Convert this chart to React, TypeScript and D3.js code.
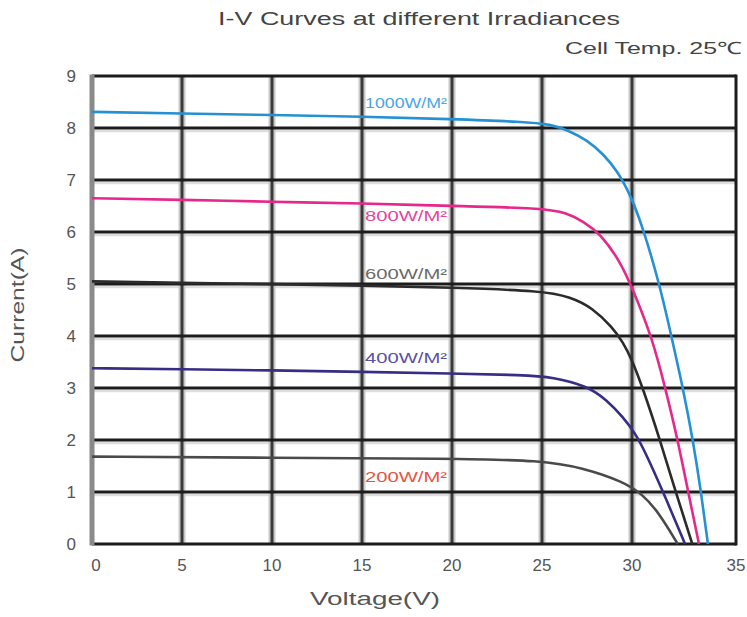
import React, { useEffect, useRef } from 'react';
import * as d3 from 'd3';

// I-V curves: [voltage V, current A]
const curve1000: [number, number][] = [
  [0, 8.31], [5, 8.28], [10, 8.25], [15, 8.22], [20, 8.17], [24, 8.12], [25.5, 8.07],
  [26.4, 7.96], [27.5, 7.77], [28.4, 7.5], [29.2, 7.17], [29.9, 6.72], [30.5, 6.12],
  [31.35, 4.96], [31.9, 3.98], [32.45, 3.0], [32.93, 2.0], [33.32, 1.0], [33.65, 0],
];
const curve800: [number, number][] = [
  [0, 6.65], [5, 6.62], [10, 6.58], [15, 6.55], [20, 6.5], [25, 6.46], [26.4, 6.37],
  [27.3, 6.2], [28.2, 5.98], [29.3, 5.46], [30, 4.94], [30.96, 3.98], [31.6, 3.0],
  [32.2, 2.0], [32.7, 1.0], [33.22, 0],
];
const curve600: [number, number][] = [
  [0, 5.05], [5, 5.02], [10, 5.0], [15, 4.97], [20, 4.93], [25, 4.87], [26.6, 4.75],
  [27.8, 4.54], [28.9, 4.17], [29.5, 3.88], [30, 3.54], [30.5, 3.02], [31.35, 2.0],
  [32.1, 1.0], [32.9, 0],
];
const curve400: [number, number][] = [
  [0, 3.38], [5, 3.36], [10, 3.34], [15, 3.31], [20, 3.28], [24, 3.25], [25.6, 3.21],
  [27.5, 3.04], [28.6, 2.77], [29.5, 2.44], [30.15, 2.13], [30.6, 1.8], [31.5, 1.0],
  [32.55, 0],
];
const curve200: [number, number][] = [
  [0, 1.68], [10, 1.66], [20, 1.64], [25, 1.61], [27.3, 1.46], [29.5, 1.2],
  [30.5, 0.96], [31.3, 0.6], [32.2, 0],
];

const irradianceLabels = ['1000W/M²', '800W/M²', '600W/M²', '400W/M²', '200W/M²'];
const labelCurrents = [8.48, 6.3, 5.2, 3.58, 1.28];
const seriesColors = ['#2591d4', '#e5288a', '#2b2b2b', '#372d86', '#4a4a4a'];
const labelColors = ['#49a6e2', '#e4469c', '#6a6a6a', '#5b51a4', '#e8533f'];

const xTicks = [0, 5, 10, 15, 20, 25, 30, 35];
const yTicks = [0, 1, 2, 3, 4, 5, 6, 7, 8, 9];

const App = () => {
  const svgRef = useRef<SVGSVGElement | null>(null);

  useEffect(() => {
    if (!svgRef.current) return;
    const svg = d3.select(svgRef.current);
    svg.selectAll('*').remove();

    const width = 747;
    const height = 617;
    svg.attr('viewBox', `0 0 ${width} ${height}`);

    // the scanned grid is uneven: last column (30-35 V) is wider
    const x = d3.scaleLinear().domain([0, 30, 35]).range([92, 632, 736]);
    const y = d3.scaleLinear().domain([0, 9]).range([544, 76]);

    const font = 'Liberation Sans, Arial, sans-serif';
    const grid = svg.append('g');

    // light scan halo under the grid lines
    grid.selectAll('line.hh')
      .data(yTicks.slice(1, -1))
      .join('line')
      .attr('x1', x(0)).attr('x2', x(35))
      .attr('y1', d => y(d) + 3).attr('y2', d => y(d) + 3)
      .attr('stroke', '#dedede').attr('stroke-width', 2.5);

    grid.selectAll('line.vh')
      .data(xTicks.slice(1, -1))
      .join('line')
      .attr('x1', d => x(d)).attr('x2', d => x(d))
      .attr('y1', y(9)).attr('y2', y(0))
      .attr('stroke', '#c8c8c8').attr('stroke-width', 7);

    grid.selectAll('line.v')
      .data(xTicks.slice(1, -1))
      .join('line')
      .attr('x1', d => x(d)).attr('x2', d => x(d))
      .attr('y1', y(9)).attr('y2', y(0))
      .attr('stroke', '#3a3a3a').attr('stroke-width', 3);

    grid.selectAll('line.h')
      .data(yTicks)
      .join('line')
      .attr('x1', x(0)).attr('x2', x(35))
      .attr('y1', d => y(d)).attr('y2', d => y(d))
      .attr('stroke', '#1c1c1c').attr('stroke-width', 3);

    // right border and grey left axis
    grid.append('line')
      .attr('x1', x(35)).attr('x2', x(35)).attr('y1', y(9) - 1.5).attr('y2', y(0) + 1.5)
      .attr('stroke', '#1c1c1c').attr('stroke-width', 3);
    grid.append('line')
      .attr('x1', x(0)).attr('x2', x(0)).attr('y1', y(9) - 1.5).attr('y2', y(0) + 1.5)
      .attr('stroke', '#8a8a8a').attr('stroke-width', 5);

    // curves
    const line = d3.line<[number, number]>()
      .x(d => x(d[0]))
      .y(d => y(d[1]))
      .curve(d3.curveBasis);

    const curves = [curve1000, curve800, curve600, curve400, curve200];
    svg.append('g')
      .selectAll('path')
      .data(curves)
      .join('path')
      .attr('d', d => line(d))
      .attr('fill', 'none')
      .attr('stroke', (_, i) => seriesColors[i])
      .attr('stroke-width', 2.6);

    // irradiance labels
    svg.append('g')
      .selectAll('text')
      .data(irradianceLabels)
      .join('text')
      .attr('x', x(15) + 3)
      .attr('y', (_, i) => y(labelCurrents[i]) + 5)
      .attr('textLength', 82)
      .attr('lengthAdjust', 'spacingAndGlyphs')
      .attr('font-family', font)
      .attr('font-size', 14)
      .attr('fill', (_, i) => labelColors[i])
      .text(d => d);

    // tick labels
    svg.append('g')
      .selectAll('text')
      .data(xTicks)
      .join('text')
      .attr('x', d => x(d) + (d === 0 ? 4 : 0))
      .attr('y', 571)
      .attr('text-anchor', 'middle')
      .attr('font-family', font)
      .attr('font-size', 17)
      .attr('fill', '#555')
      .text(d => d);

    svg.append('g')
      .selectAll('text')
      .data(yTicks)
      .join('text')
      .attr('x', 76)
      .attr('y', d => y(d) + 6)
      .attr('text-anchor', 'end')
      .attr('font-family', font)
      .attr('font-size', 17)
      .attr('fill', '#555')
      .text(d => d);

    // titles
    svg.append('text')
      .attr('x', 218).attr('y', 25)
      .attr('textLength', 402).attr('lengthAdjust', 'spacingAndGlyphs')
      .attr('font-family', font).attr('font-size', 18).attr('fill', '#444')
      .text('I-V Curves at different Irradiances');

    svg.append('text')
      .attr('x', 565).attr('y', 54)
      .attr('textLength', 177).attr('lengthAdjust', 'spacingAndGlyphs')
      .attr('font-family', font).attr('font-size', 17).attr('fill', '#444')
      .text('Cell Temp. 25℃');

    svg.append('text')
      .attr('x', 375).attr('y', 605)
      .attr('text-anchor', 'middle')
      .attr('textLength', 130).attr('lengthAdjust', 'spacingAndGlyphs')
      .attr('font-family', font).attr('font-size', 18).attr('fill', '#555')
      .text('Voltage(V)');

    svg.append('text')
      .attr('transform', 'translate(24,305) rotate(-90)')
      .attr('text-anchor', 'middle')
      .attr('textLength', 115).attr('lengthAdjust', 'spacingAndGlyphs')
      .attr('font-family', font).attr('font-size', 18).attr('fill', '#555')
      .text('Current(A)');
  }, []);

  return (
    <div style={{ position: 'absolute', left: 0, top: 0, width: 747, height: 617, background: '#fff' }}>
      <svg ref={svgRef} width={747} height={617} style={{ display: 'block' }}></svg>
    </div>
  );
};

export default App;
